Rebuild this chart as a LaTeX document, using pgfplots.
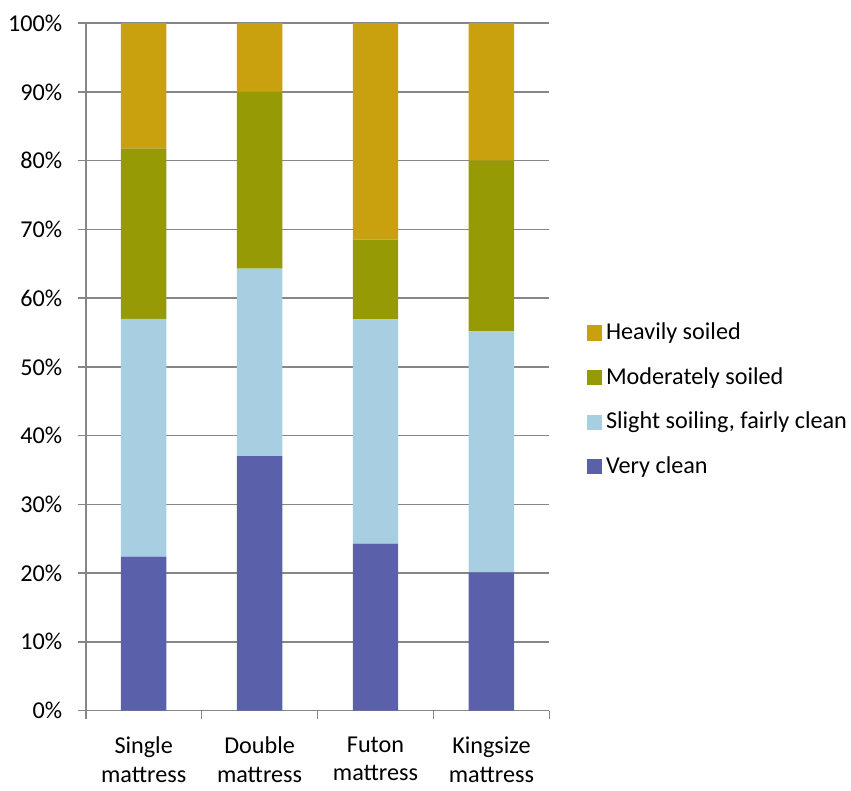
\documentclass[border=0pt]{standalone}
\usepackage{pgfplots}
\pgfplotsset{compat=1.18}
\usepackage{fontspec}
\setmainfont{Carlito}
\definecolor{cVery}{RGB}{90,96,170}
\definecolor{cSlight}{RGB}{168,206,226}
\definecolor{cMod}{RGB}{150,154,5}
\definecolor{cHeavy}{RGB}{201,160,14}
\definecolor{cGrid}{RGB}{134,134,134}
\begin{document}
\fontsize{12}{14}\selectfont
\begin{tikzpicture}
\begin{axis}[
  name=main,
  scale only axis,
  width=230pt, height=341pt,
  ybar stacked,
  bar width=22.5pt,
  xmin=-0.5, xmax=3.5,
  ymin=0, ymax=100,
  axis x line*=bottom,
  axis y line*=left,
  axis line style={cGrid, line width=0.8pt, -},
  xtick={0,1,2,3},
  xticklabels={{Single\\mattress},{Double\\mattress},{Futon\\mattress},{Kingsize\\mattress}},
  xticklabel style={align=center, font=\fontsize{12}{14}\selectfont, yshift=-5pt},
  major x tick style={draw=none},
  minor xtick={-0.5,0.5,1.5,2.5,3.5},
  minor x tick style={cGrid, line width=0.8pt},
  minor tick length=4pt,
  ytick={0,10,...,100},
  yticklabel={\pgfmathprintnumber{\tick}\%},
  yticklabel style={font=\fontsize{12}{14}\selectfont, xshift=-3.5pt},
  /pgf/number format/assume math mode=true,
  major y tick style={cGrid, line width=0.8pt},
  major tick length=4pt,
  tick align=outside,
  ymajorgrids,
  major grid style={cGrid, line width=0.8pt},
  reverse legend,
  legend style={draw=none, at={(1.08,0.452)}, anchor=west, font=\fontsize{12}{14}\selectfont, row sep=8pt, inner sep=0pt},
  legend cell align=left,
  legend image code/.code={\fill[#1] (0pt,-3.75pt) rectangle (7.5pt,3.75pt);},
]
\addplot[fill=cVery, draw=none] coordinates {(0,22.4) (1,37.0) (2,24.3) (3,20.1)};
\addplot[fill=cSlight, draw=none] coordinates {(0,34.6) (1,27.3) (2,32.6) (3,35.1)};
\addplot[fill=cMod, draw=none] coordinates {(0,24.8) (1,25.7) (2,11.6) (3,24.8)};
\addplot[fill=cHeavy, draw=none] coordinates {(0,18.2) (1,10.0) (2,31.5) (3,20.0)};
\legend{Very clean, {Slight soiling, fairly clean}, Moderately soiled, Heavily soiled}
\end{axis}
\path ([yshift=11.5pt]main.north west);
\end{tikzpicture}
\end{document}
